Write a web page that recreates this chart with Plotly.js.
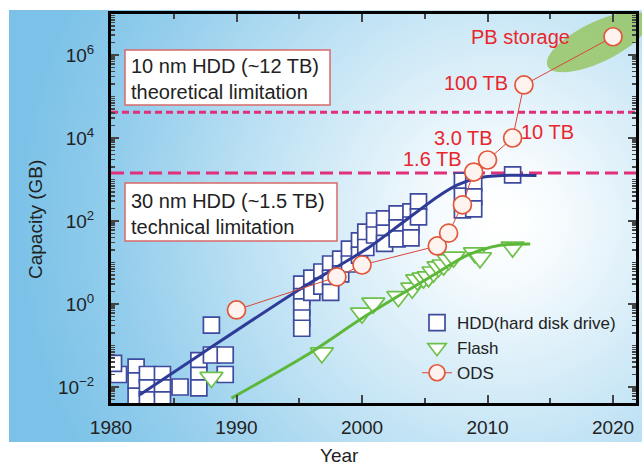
<!DOCTYPE html>
<html><head><meta charset="utf-8">
<script src="https://cdn.plot.ly/plotly-3.0.1.min.js"></script>
<style>html,body{margin:0;padding:0;background:#fff}#chart{width:642px;height:467px}</style>
</head><body><div id="chart"></div>
<script>
// ---- data ----
const hddYear = [1980.6,1980.2,1982.0,1982.0,1982.0,1982.9,1982.9,1982.9,1984.1,1984.1,1984.1,1985.5,
  1987.0,1987.0,1987.0,1988.0,1989.1,1989.1,1988.0,
  1995.2,1995.2,1995.2,1995.2,1995.2,1996.0,1996.0,1996.8,1996.8,1997.5,1997.5,1997.5,
  1998.3,1998.3,1999.0,1999.0,1999.8,1999.8,2000.3,2000.3,2001.0,2001.0,2001.8,2001.8,2001.8,
  2002.8,2002.8,2002.8,2003.9,2003.9,2003.9,2004.5,2004.5,
  2008.0,2008.0,2008.0,2008.9,2008.9,2008.9,2012.0];
const hddGB = [0.020,0.037,0.030,0.014,0.006,0.020,0.0095,0.0049,0.020,0.0095,0.0049,0.010,
  0.043,0.019,0.0095,0.059,0.059,0.020,0.31,
  3.0,1.5,0.85,0.46,0.26,4.2,1.9,5.9,2.7,9.2,4.2,1.9,
  12,5.3,21,9.2,33,15,54,23,100,46,112,51,29,
  148,68,37,166,80,39,288,126,
  912,398,186,832,380,195,1290];
const hddFitYear = [1982.3,1987.3,1994.7,1998.0,2000.6,2003.3,2006.0,2007.6,2009.2,2011.2,2013.9];
const hddFitGB   = [0.0065,0.066,1.95,7.8,23.6,95,380,740,1090,1250,1250];

const flashYear = [1988.0,1996.8,2000.0,2000.9,2002.9,2004.0,2004.4,2004.9,2005.3,2005.7,2006.1,2006.5,2006.9,2007.3,2009.0,2009.4,2012.0];
const flashGB   = [0.017,0.066,0.6,1.05,1.5,2.4,3.8,4.2,4.5,5.9,7.8,8.7,11.5,13.5,17,13,23.5];
const flashFitYear = [1989.6,1995.6,2000.4,2005.7,2008.4,2011.0,2013.4];
const flashFitGB   = [0.0054,0.059,0.54,5.0,15,26,28];

const odsYear = [1990.0,1998.0,2000.0,2006.0,2006.9,2008.0,2008.9,2010.0,2012.0,2012.9,2020.0];
const odsGB   = [0.72,4.5,8.7,25,51,245,1510,2950,10000,190000,2750000];

const limitGB = [42000, 1440];
const yTickVals = [1e-2,1e0,1e2,1e4,1e6];
const yTickText = ['10<sup>\u22122</sup>','10<sup>0</sup>','10<sup>2</sup>','10<sup>4</sup>','10<sup>6</sup>'];
const yOddDecades = [1e-1,1e1,1e3,1e5,1e7];
const xTickVals = [1980,1990,2000,2010,2020];
const seriesNames = ['HDD(hard disk drive)','Flash','ODS'];

// ---- geometry helpers (pixel -> paper) ----
const L=111, R=636, T=14, B=403, W=642, H=467;
const px = x => (x-L)/(R-L);
const py = y => (B-y)/(B-T);

// background gradient image
const cv=document.createElement('canvas'); cv.width=W; cv.height=H;
const g=cv.getContext('2d');
g.fillStyle='#ffffff'; g.fillRect(0,0,W,H);
const rg=g.createRadialGradient(500,220,10,500,220,480);
rg.addColorStop(0,'#ffffff'); rg.addColorStop(0.12,'#f4fafd'); rg.addColorStop(0.5,'#bfe2f4'); rg.addColorStop(0.8,'#93cdec'); rg.addColorStop(1,'#7cc2e8');
g.fillStyle=rg; g.fillRect(9,10,W-9,432);

// rotated ellipse (PB storage highlight)
function ellipsePath(cx,cy,a,b,ang){
  const c=Math.cos(ang), s=Math.sin(ang); let p='';
  for(let i=0;i<=48;i++){const t=i/48*2*Math.PI; const ex=a*Math.cos(t), ey=b*Math.sin(t);
    const X=cx+ex*c-ey*s, Y=cy+ex*s+ey*c; p+=(i?'L':'M')+px(X).toFixed(4)+','+py(Y).toFixed(4);}
  return p+'Z';
}

const font='Liberation Sans, Arial, sans-serif';
const red='#e8262b';

const traces=[
  {x:hddYear,y:hddGB,type:'scatter',mode:'markers',name:seriesNames[0],
   marker:{symbol:'square',size:16,color:'#ffffff',line:{color:'#3d4a9e',width:1.7}}},
  {x:flashYear,y:flashGB,type:'scatter',mode:'markers',name:seriesNames[1],
   marker:{symbol:'triangle-down',size:20,color:'#ffffff',line:{color:'#6cc04a',width:1.7}}},
  {x:hddFitYear,y:hddFitGB,type:'scatter',mode:'lines',showlegend:false,
   line:{color:'#2e3c98',width:3,shape:'spline',smoothing:0.8}},
  {x:flashFitYear,y:flashFitGB,type:'scatter',mode:'lines',showlegend:false,
   line:{color:'#5db83a',width:3,shape:'spline',smoothing:0.8}},
  {x:odsYear,y:odsGB,type:'scatter',mode:'lines+markers',name:seriesNames[2],
   line:{color:'#d9473a',width:1},
   marker:{symbol:'circle',size:18,color:'#fff3ef',line:{color:'#e2563a',width:1.7}}}
];

const lbl = (text,x,y,size,color,extra) => Object.assign({text:text,xref:'paper',yref:'paper',x:px(x),y:py(y),
  xanchor:'center',yanchor:'middle',showarrow:false,font:{size:size,color:color}},extra||{});

const layout={
  width:W,height:H,margin:{l:L,r:W-R,t:T,b:H-B},
  paper_bgcolor:'#ffffff',plot_bgcolor:'rgba(0,0,0,0)',
  font:{family:font,color:'#222',size:19},
  showlegend:true,
  legend:{x:px(417),y:py(305),xanchor:'left',yanchor:'top',bgcolor:'rgba(0,0,0,0)',
    font:{family:font,size:17,color:'#222'},borderwidth:0},
  xaxis:{range:[1980,2021.83],tickmode:'array',tickvals:xTickVals,ticks:'inside',ticklen:8,tickwidth:2,
    showline:true,linewidth:3,linecolor:'#000',mirror:'allticks',showgrid:false,zeroline:false,
    minor:{ticks:'inside',ticklen:5,tickwidth:2,dtick:5,tick0:1980,showgrid:false},
    tickfont:{size:19,color:'#222'},ticklabelstandoff:5},
  yaxis:{type:'log',range:[-2.386,6.988],tickmode:'array',tickvals:yTickVals,ticktext:yTickText,
    ticks:'inside',ticklen:8,tickwidth:2,showline:true,linewidth:3,linecolor:'#000',mirror:'allticks',
    showgrid:false,zeroline:false,
    minor:{ticks:'inside',ticklen:4,tickwidth:1.5,dtick:'D1',showgrid:false},
    tickfont:{size:19,color:'#222'},ticklabelstandoff:10},
  yaxis2:{type:'log',range:[-2.386,6.988],overlaying:'y',side:'left',anchor:'x',tickmode:'array',tickvals:yOddDecades,
    showticklabels:false,ticks:'inside',ticklen:8,tickwidth:2,mirror:'allticks',showline:false,showgrid:false,zeroline:false},
  images:[{source:cv.toDataURL(),xref:'paper',yref:'paper',x:px(0),y:py(0),sizex:W/(R-L),sizey:H/(B-T),
    xanchor:'left',yanchor:'top',sizing:'stretch',layer:'below'}],
  shapes:[
    {type:'line',xref:'paper',yref:'y',x0:0,x1:1,y0:limitGB[0],y1:limitGB[0],
     line:{color:'#e0307a',width:3,dash:'7px,4px'},layer:'below'},
    {type:'line',xref:'paper',yref:'y',x0:0,x1:1,y0:limitGB[1],y1:limitGB[1],
     line:{color:'#e0307a',width:3,dash:'13px,6px'},layer:'below'},
    {type:'rect',xref:'paper',yref:'paper',x0:px(125),x1:px(330),y0:py(50),y1:py(105),
     fillcolor:'#ffffff',line:{color:'#d86a6a',width:1.5},layer:'below'},
    {type:'rect',xref:'paper',yref:'paper',x0:px(125),x1:px(337),y0:py(183),y1:py(241),
     fillcolor:'#ffffff',line:{color:'#d86a6a',width:1.5},layer:'below'},
    {type:'path',xref:'paper',yref:'paper',path:ellipsePath(598,42,56,20,-0.45),
     fillcolor:'rgba(150,198,100,0.85)',line:{width:0},layer:'below'}
  ],
  annotations:[
    lbl('10 nm HDD (~12 TB)<br>theoretical limitation',129,79,20,'#222',{xanchor:'left',align:'left'}),
    lbl('30 nm HDD (~1.5 TB)<br>technical limitation',129,214,20,'#222',{xanchor:'left',align:'left'}),
    lbl('PB storage',520,37,20,red),
    lbl('100 TB',476,83,20,red),
    lbl('10 TB',547,132,20,red),
    lbl('3.0 TB',463,138,20,red),
    lbl('1.6 TB',432,159,20,red),
    lbl('Capacity (GB)',35,220,19,'#222',{textangle:-90}),
    lbl('Year',339,455,19,'#222')
  ]
};
Plotly.newPlot('chart',traces,layout,{staticPlot:true,displayModeBar:false});
</script></body></html>
